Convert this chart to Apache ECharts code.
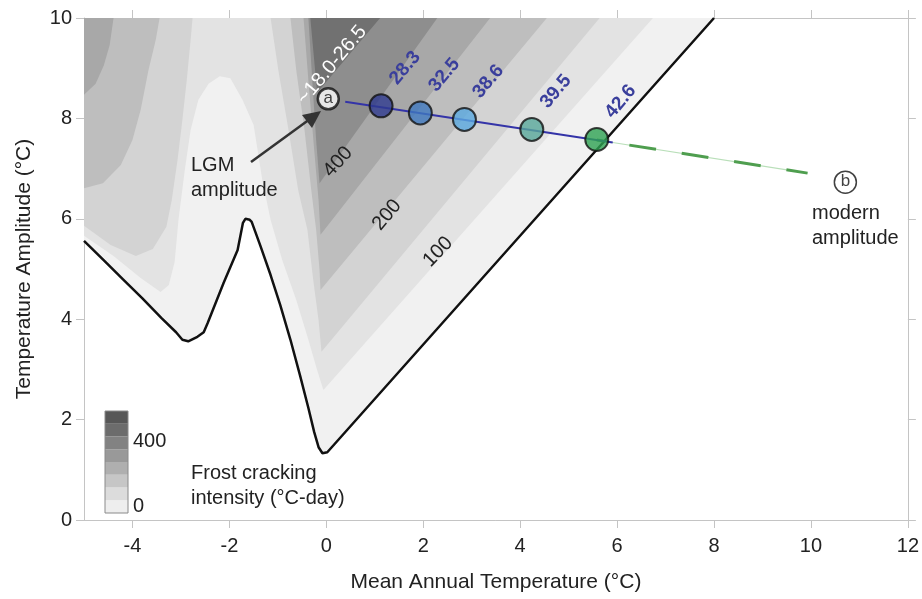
<!DOCTYPE html>
<html><head><meta charset="utf-8">
<script src="https://cdn.jsdelivr.net/npm/echarts@6/dist/echarts.min.js"></script>
<style>html,body{margin:0;padding:0;background:#fff}#c{width:922px;height:599px}</style>
</head><body><div id="c"></div>
<script>
// ---- axis ticks ----
const xTicks = [-4, -2, 0, 2, 4, 6, 8, 10, 12];
const yTicks = [0, 2, 4, 6, 8, 10];

// ---- frost cracking intensity bands (outer -> inner), [MAT, amplitude] ----
const band1 = [[-5,5.56],[-4.6,5.18],[-4.2,4.80],[-3.8,4.42],[-3.4,4.02],[-3.1,3.74],[-2.97,3.59],[-2.85,3.56],[-2.66,3.65],[-2.53,3.74],[-2.45,3.92],[-2.12,4.72],[-1.83,5.38],[-1.72,5.92],[-1.67,6.0],[-1.58,5.98],[-1.54,5.94],[-1.36,5.46],[-1.15,4.88],[-0.95,4.28],[-0.74,3.59],[-0.54,2.87],[-0.37,2.23],[-0.25,1.75],[-0.16,1.45],[-0.08,1.33],[0.02,1.35],[8.0,10],[-5,10]];
const band2 = [[-5,5.66],[-4.39,5.26],[-3.83,4.82],[-3.42,4.54],[-3.25,4.68],[-3.13,5.14],[-3.05,5.98],[-2.92,6.97],[-2.80,7.77],[-2.64,8.37],[-2.43,8.69],[-2.20,8.84],[-1.98,8.80],[-1.73,8.37],[-1.50,7.87],[-1.32,6.77],[-1.15,5.98],[-0.91,5.18],[-0.62,4.38],[-0.37,3.59],[-0.19,2.99],[-0.06,2.59],[6.74,10],[-5,10]];
const band3a = [[-5,5.86],[-4.45,5.48],[-3.93,5.26],[-3.58,5.40],[-3.30,5.84],[-3.19,6.37],[-3.07,7.17],[-2.97,7.97],[-2.88,8.76],[-2.80,9.56],[-2.76,10],[-5,10]];
const band3b = [[-1.15,10],[-0.99,8.96],[-0.78,7.77],[-0.58,6.57],[-0.39,5.78],[-0.27,4.78],[-0.16,3.98],[-0.10,3.35],[5.64,10]];
const band4a = [[-5,6.61],[-4.61,6.71],[-4.24,7.07],[-4.0,7.57],[-3.83,8.17],[-3.67,8.96],[-3.52,9.56],[-3.44,10],[-5,10]];
const band4b = [[-0.74,10],[-0.62,8.96],[-0.45,7.77],[-0.31,6.57],[-0.21,5.78],[-0.14,4.98],[-0.12,4.58],[4.55,10]];
const band5a = [[-5,8.47],[-4.76,8.69],[-4.59,9.06],[-4.47,9.46],[-4.39,10],[-5,10]];
const band5b = [[-0.47,10],[-0.37,8.76],[-0.25,7.37],[-0.16,6.37],[-0.12,5.68],[3.38,10]];
const band6 = [[-0.37,10],[-0.29,8.76],[-0.21,7.57],[-0.14,6.71],[2.29,10]];
const band7 = [[-0.33,10],[-0.25,9.16],[-0.19,8.51],[1.11,10]];
const bandColors = ['#f1f1f1','#e3e3e3','#d3d3d3','#bebebe','#a8a8a8','#8e8e8e','#717171'];
const legendColors = ['#eeeeee','#dcdcdc','#c6c6c6','#afafaf','#999999','#828282','#6c6c6c','#575757'];

// zero-intensity contour (black line) = outer edge of band1
const zeroContour = band1.slice(0, band1.length - 1);

// ---- trajectory points ----
const pointX = [1.13, 1.94, 2.85, 4.24, 5.58];
const pointY = [8.25, 8.11, 7.98, 7.78, 7.58];
const pointLabels = ['28.3', '32.5', '38.6', '39.5', '42.6'];
const pointColors = ['#2e3a8f', '#3f78bf', '#5aa9e0', '#58a89a', '#2ea353'];
const lgmPoint = [0.04, 8.39];
const modernPoint = [10.71, 6.73];
const blueLine = [[0.39, 8.33], [5.91, 7.52]];
const greenLine = [[5.58, 7.57], [9.93, 6.91]];

const FONT = 'Liberation Sans, Arial, sans-serif';
const TXT = '#222';

function poly(points, color) {
  return {
    type: 'custom', coordinateSystem: 'cartesian2d', clip: true, silent: true,
    data: [[0, 0]], z: 1,
    renderItem: (p, api) => ({
      type: 'polygon',
      shape: { points: points.map(pt => api.coord(pt)) },
      style: { fill: color, stroke: null }
    })
  };
}

const series = [
  poly(band1, bandColors[0]),
  poly(band2, bandColors[1]),
  poly(band3a, bandColors[2]),
  poly(band3b, bandColors[2]),
  poly(band4a, bandColors[3]),
  poly(band4b, bandColors[3]),
  poly(band5a, bandColors[4]),
  poly(band5b, bandColors[4]),
  poly(band6, bandColors[5]),
  poly(band7, bandColors[6]),
  { type: 'line', data: zeroContour, showSymbol: false, silent: true, z: 3, clip: true,
    lineStyle: { color: '#111', width: 2.5 } },
  { type: 'line', data: greenLine, showSymbol: false, silent: true, z: 3,
    lineStyle: { color: '#b9dfb9', width: 1.2 } },
  { type: 'line', data: greenLine, showSymbol: false, silent: true, z: 3,
    lineStyle: { color: '#4f9e4f', width: 3, type: [27, 26], dashOffset: 20 } },
  { type: 'line', data: blueLine, showSymbol: false, silent: true, z: 4,
    lineStyle: { color: '#3434a8', width: 2 } },
  { type: 'scatter', z: 5, silent: true, symbolSize: 23,
    data: pointX.map((x, i) => ({ value: [x, pointY[i]], itemStyle: { color: pointColors[i], borderColor: '#111', borderWidth: 2 } })) },
  { type: 'scatter', z: 5, silent: true, symbolSize: 21,
    data: [lgmPoint], itemStyle: { color: '#fff', borderColor: '#111', borderWidth: 2.5 },
    label: { show: true, position: 'inside', formatter: 'a', color: '#111', fontSize: 17, fontFamily: FONT, offset: [0, -1] } },
  { type: 'scatter', z: 5, silent: true, symbolSize: 22,
    data: [modernPoint], itemStyle: { color: '#fff', borderColor: '#111', borderWidth: 1.5 },
    label: { show: true, position: 'inside', formatter: 'b', color: '#111', fontSize: 17, fontFamily: FONT, offset: [0, -1] } },
  { type: 'custom', coordinateSystem: 'cartesian2d', z: 6, silent: true, clip: false,
    data: pointX.map((x, i) => [x, pointY[i], i]),
    renderItem: (p, api) => {
      const c = api.coord([api.value(0), api.value(1)]);
      return { type: 'text', x: c[0] + 24, y: c[1] - 38, rotation: 50 * Math.PI / 180,
        style: { text: pointLabels[api.value(2)], fill: '#3a3f9c', font: 'bold 19px ' + FONT, align: 'center', verticalAlign: 'middle' } };
    } }
];

const axisLineStyle = { color: '#c4c4c4', width: 1 };
const chart = echarts.init(document.getElementById('c'), null, { renderer: 'canvas' });
chart.setOption({
  animation: false,
  backgroundColor: '#fff',
  grid: { left: 84, right: 14, top: 18, bottom: 79, containLabel: false },
  xAxis: [
    { type: 'value', min: -5, max: 12, position: 'bottom',
      axisLine: { show: true, onZero: false, lineStyle: axisLineStyle },
      axisTick: { show: true, length: 8, customValues: xTicks, lineStyle: axisLineStyle },
      axisLabel: { customValues: xTicks, fontSize: 20, color: TXT, fontFamily: FONT, margin: 16 },
      splitLine: { show: false },
      name: 'Mean Annual Temperature (°C)', nameLocation: 'middle', nameGap: 52,
      nameTextStyle: { fontSize: 21, color: TXT, fontFamily: FONT } },
    { type: 'value', min: -5, max: 12, position: 'top',
      axisLine: { show: true, onZero: false, lineStyle: axisLineStyle },
      axisTick: { show: true, length: 8, customValues: xTicks, lineStyle: axisLineStyle },
      axisLabel: { show: false }, splitLine: { show: false } }
  ],
  yAxis: [
    { type: 'value', min: 0, max: 10, interval: 2, position: 'left',
      axisLine: { show: true, onZero: false, lineStyle: axisLineStyle },
      axisTick: { show: true, length: 8, customValues: yTicks, lineStyle: axisLineStyle },
      axisLabel: { customValues: yTicks, fontSize: 20, color: TXT, fontFamily: FONT, margin: 12 },
      splitLine: { show: false },
      name: 'Temperature Amplitude (°C)', nameLocation: 'middle', nameGap: 49,
      nameTextStyle: { fontSize: 21, color: TXT, fontFamily: FONT } },
    { type: 'value', min: 0, max: 10, interval: 2, position: 'right',
      axisLine: { show: true, onZero: false, lineStyle: axisLineStyle },
      axisTick: { show: true, length: 8, lineStyle: axisLineStyle },
      axisLabel: { show: false }, splitLine: { show: false } }
  ],
  series: series,
  graphic: [
    // colour bar legend
    ...legendColors.map((c, i) => ({ type: 'rect', z: 10,
      shape: { x: 105, y: 513 - (i + 1) * 12.75, width: 23, height: 12.75 },
      style: { fill: c } })),
    { type: 'rect', z: 11, shape: { x: 105, y: 411, width: 23, height: 102 },
      style: { fill: null, stroke: '#8a8a8a', lineWidth: 1 } },
    { type: 'text', z: 11, x: 133, y: 441, style: { text: '400', font: '20px ' + FONT, fill: TXT, verticalAlign: 'middle' } },
    { type: 'text', z: 11, x: 133, y: 506, style: { text: '0', font: '20px ' + FONT, fill: TXT, verticalAlign: 'middle' } },
    { type: 'text', z: 11, x: 191, y: 473, style: { text: 'Frost cracking', font: '20px ' + FONT, fill: TXT, verticalAlign: 'middle' } },
    { type: 'text', z: 11, x: 191, y: 498, style: { text: 'intensity (°C-day)', font: '20px ' + FONT, fill: TXT, verticalAlign: 'middle' } },
    // LGM annotation
    { type: 'text', z: 11, x: 191, y: 165, style: { text: 'LGM', font: '20px ' + FONT, fill: TXT, verticalAlign: 'middle' } },
    { type: 'text', z: 11, x: 191, y: 190, style: { text: 'amplitude', font: '20px ' + FONT, fill: TXT, verticalAlign: 'middle' } },
    { type: 'line', z: 11, shape: { x1: 251, y1: 162, x2: 310, y2: 119 }, style: { stroke: '#333', lineWidth: 2.5 } },
    { type: 'polygon', z: 11, shape: { points: [[321, 111], [302, 115], [312, 128]] }, style: { fill: '#333' } },
    // modern annotation
    { type: 'text', z: 11, x: 812, y: 213, style: { text: 'modern', font: '20px ' + FONT, fill: TXT, verticalAlign: 'middle' } },
    { type: 'text', z: 11, x: 812, y: 238, style: { text: 'amplitude', font: '20px ' + FONT, fill: TXT, verticalAlign: 'middle' } },
    // contour labels
    { type: 'text', z: 11, x: 332, y: 65, rotation: 50 * Math.PI / 180,
      style: { text: '~18.0-26.5', font: '20px ' + FONT, fill: '#fff', align: 'center', verticalAlign: 'middle' } },
    { type: 'text', z: 11, x: 338, y: 162, rotation: 48 * Math.PI / 180,
      style: { text: '400', font: '20px ' + FONT, fill: TXT, align: 'center', verticalAlign: 'middle' } },
    { type: 'text', z: 11, x: 387, y: 215, rotation: 50 * Math.PI / 180,
      style: { text: '200', font: '20px ' + FONT, fill: TXT, align: 'center', verticalAlign: 'middle' } },
    { type: 'text', z: 11, x: 438, y: 252, rotation: 46 * Math.PI / 180,
      style: { text: '100', font: '20px ' + FONT, fill: TXT, align: 'center', verticalAlign: 'middle' } }
  ]
});
</script>
</body></html>
